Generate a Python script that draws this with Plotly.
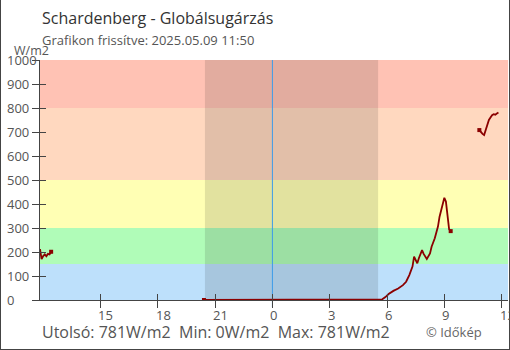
import plotly.graph_objects as go

# ---------------- data ----------------
seg1_times = ["2025-05-08 11:50", "2025-05-08 11:55", "2025-05-08 12:00", "2025-05-08 12:05",
              "2025-05-08 12:10", "2025-05-08 12:15", "2025-05-08 12:20", "2025-05-08 12:25"]
seg1_vals = [212, 170, 183, 190, 182, 192, 190, 201]

seg2_times = ["2025-05-08 20:25", "2025-05-09 05:40", "2025-05-09 05:45", "2025-05-09 05:55",
              "2025-05-09 06:05", "2025-05-09 06:20", "2025-05-09 06:35", "2025-05-09 06:50",
              "2025-05-09 07:00", "2025-05-09 07:10", "2025-05-09 07:20", "2025-05-09 07:25",
              "2025-05-09 07:35", "2025-05-09 07:40", "2025-05-09 07:50", "2025-05-09 07:55",
              "2025-05-09 08:05", "2025-05-09 08:15", "2025-05-09 08:20", "2025-05-09 08:30",
              "2025-05-09 08:40", "2025-05-09 08:45", "2025-05-09 08:55", "2025-05-09 09:00",
              "2025-05-09 09:05", "2025-05-09 09:10", "2025-05-09 09:15", "2025-05-09 09:20"]
seg2_vals = [0, 0, 3, 12, 25, 38, 48, 62,
             76, 104, 139, 181, 153, 174, 208, 192,
             171, 194, 222, 257, 306, 347, 403, 426,
             410, 337, 295, 287]

seg3_times = ["2025-05-09 10:50", "2025-05-09 10:55", "2025-05-09 11:00", "2025-05-09 11:05",
              "2025-05-09 11:10", "2025-05-09 11:15", "2025-05-09 11:20", "2025-05-09 11:25",
              "2025-05-09 11:30", "2025-05-09 11:35", "2025-05-09 11:40", "2025-05-09 11:45",
              "2025-05-09 11:50"]
seg3_vals = [708, 699, 692, 687, 710, 732, 750, 760, 770, 774, 772, 777, 781]

segments = [(seg1_times, seg1_vals), (seg2_times, seg2_vals), (seg3_times, seg3_vals)]

x_range = ["2025-05-08 11:50", "2025-05-09 12:20"]
sunset = "2025-05-08 20:28"
sunrise = "2025-05-09 05:32"
midnight = "2025-05-09 00:00"

x_tick_vals = ["2025-05-08 15:00", "2025-05-08 18:00", "2025-05-08 21:00", "2025-05-09 00:00",
               "2025-05-09 03:00", "2025-05-09 06:00", "2025-05-09 09:00", "2025-05-09 12:00"]
x_tick_text = ["15", "18", "21", "0", "3", "6", "9", "12"]
y_tick_vals = [0, 100, 200, 300, 400, 500, 600, 700, 800, 900, 1000]
y_tick_text = [str(v) for v in y_tick_vals]

band_edges = [0, 150, 300, 500, 800, 1000]
band_colors = ["#bde0fb", "#b0fcb8", "#ffffb4", "#ffd8bf", "#ffc2b4"]

title = "Schardenberg - Globálsugárzás"
subtitle = "Grafikon frissítve: 2025.05.09 11:50"
unit = "W/m2"
last_v = seg3_vals[-1]
all_vals = seg1_vals + seg2_vals + seg3_vals
footer = f"Utolsó: {last_v}W/m2  Min: {min(all_vals)}W/m2  Max: {max(all_vals)}W/m2"
credit = "© Időkép"

# ---------------- layout geometry ----------------
W, H = 510, 350
L, R, T, B = 40, 2, 60, 50
PW, PH = W - L - R, H - T - B


def px(x):
    return (x - L) / PW


def py(y):
    return (H - B - y) / PH


FONT = "Open Sans"
LINE = "#8b0000"
AX = "#444444"
TXT = "#555555"

fig = go.Figure()

for t, v in segments:
    fig.add_trace(go.Scatter(x=t, y=v, mode="lines", line=dict(color=LINE, width=1.8),
                             showlegend=False, hoverinfo="skip"))

mx, my = [], []
for i, (t, v) in enumerate(segments):
    if i > 0:
        mx.append(t[0]); my.append(v[0])
    if i < len(segments) - 1:
        mx.append(t[-1]); my.append(v[-1])
fig.add_trace(go.Scatter(x=mx, y=my, mode="markers",
                         marker=dict(symbol="square", size=4, color=LINE),
                         showlegend=False, hoverinfo="skip"))

fig.add_trace(go.Scatter(x=[None], y=[None], xaxis="x2", yaxis="y2",
                         showlegend=False, hoverinfo="skip"))

shapes = []
for i, c in enumerate(band_colors):
    shapes.append(dict(type="rect", xref="paper", yref="y", x0=0, x1=1,
                       y0=band_edges[i], y1=band_edges[i + 1],
                       fillcolor=c, line=dict(width=0), layer="below"))
shapes.append(dict(type="rect", xref="x", yref="paper", x0=sunset, x1=sunrise, y0=0, y1=1,
                   fillcolor="rgba(0,0,0,0.115)", line=dict(width=0), layer="below"))
shapes.append(dict(type="line", xref="x", yref="paper", x0=midnight, x1=midnight,
                   y0=py(307), y1=1, line=dict(color="#3d9be9", width=1), layer="below"))
shapes.append(dict(type="line", xref="paper", yref="paper", x0=px(0.5), x1=px(0.5),
                   y0=py(349.5), y1=py(0), line=dict(color=AX, width=1)))
shapes.append(dict(type="line", xref="paper", yref="paper", x0=px(509.5), x1=px(509.5),
                   y0=py(349.5), y1=py(0), line=dict(color=AX, width=1)))
shapes.append(dict(type="line", xref="paper", yref="paper", x0=px(0), x1=px(510),
                   y0=py(349.5), y1=py(349.5), line=dict(color=AX, width=1)))

ann = []
ann.append(dict(text=title, xref="paper", yref="paper", x=px(40), y=py(18),
                xanchor="left", yanchor="middle", showarrow=False,
                font=dict(family=FONT, size=16, color="#333333")))
ann.append(dict(text=subtitle, xref="paper", yref="paper", x=px(40), y=py(40),
                xanchor="left", yanchor="middle", showarrow=False,
                font=dict(family=FONT, size=13, color=TXT)))
ann.append(dict(text=unit, xref="paper", yref="paper", x=px(12), y=py(51),
                xanchor="left", yanchor="middle", showarrow=False,
                font=dict(family=FONT, size=12.5, color=TXT)))
for v, s in zip(y_tick_vals, y_tick_text):
    ann.append(dict(text=s, xref="paper", yref="y", x=px(5), y=v,
                    xanchor="left", yanchor="middle", showarrow=False,
                    font=dict(family=FONT, size=13, color=TXT)))
for v, s in zip(x_tick_vals, x_tick_text):
    ann.append(dict(text=s, xref="x", yref="paper", x=v, y=py(315),
                    xanchor="left", yanchor="middle", xshift=-4, showarrow=False,
                    font=dict(family=FONT, size=13, color=TXT)))
ann.append(dict(text=footer, xref="paper", yref="paper", x=px(40), y=py(332),
                xanchor="left", yanchor="middle", showarrow=False,
                font=dict(family=FONT, size=16, color=TXT)))
ann.append(dict(text=credit, xref="paper", yref="paper", x=px(424), y=py(332),
                xanchor="left", yanchor="middle", showarrow=False,
                font=dict(family=FONT, size=13, color="#666666")))

fig.update_layout(
    width=W, height=H, margin=dict(l=L, r=R, t=T, b=B, pad=0),
    paper_bgcolor="white", plot_bgcolor="white",
    shapes=shapes, annotations=ann, showlegend=False,
    xaxis=dict(type="date", range=x_range, showgrid=False, zeroline=False,
               showline=True, linecolor=AX, linewidth=1,
               tickmode="array", tickvals=x_tick_vals, showticklabels=False,
               ticks="outside", ticklen=7, tickcolor=AX, fixedrange=True),
    yaxis=dict(range=[0, 1000], showgrid=False, zeroline=False,
               showline=True, linecolor=AX, linewidth=1,
               tickmode="array", tickvals=y_tick_vals, showticklabels=False,
               ticks="outside", ticklen=7, tickcolor=AX, fixedrange=True),
    xaxis2=dict(type="date", range=x_range, overlaying="x", anchor="y2",
                showgrid=False, zeroline=False, showline=False,
                tickmode="array", tickvals=x_tick_vals, showticklabels=False,
                ticks="inside", ticklen=6, tickcolor=AX),
    yaxis2=dict(range=[0, 1000], overlaying="y", anchor="x2", side="left",
                showgrid=False, zeroline=False, showline=False,
                tickmode="array", tickvals=y_tick_vals, showticklabels=False,
                ticks="inside", ticklen=6, tickcolor=AX),
)

fig.write_html("out.html")
